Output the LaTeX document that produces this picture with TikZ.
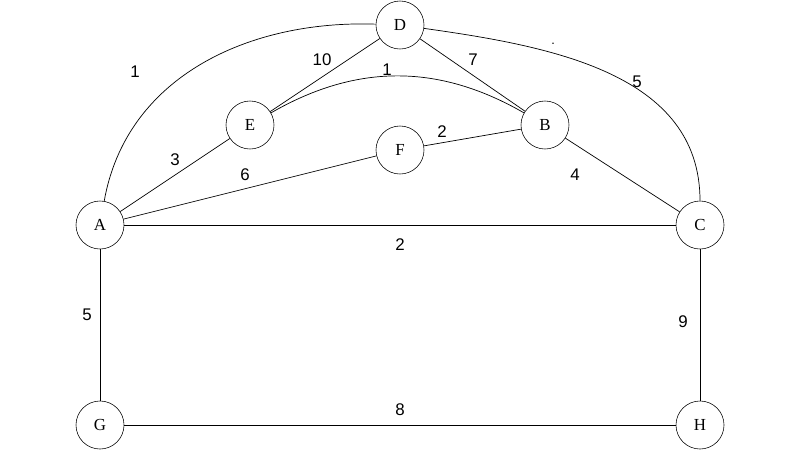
\documentclass[tikz,border=0pt]{standalone}
\usepackage{fontspec}
\setmainfont{Liberation Serif}
\newfontfamily\lab{Liberation Sans}
\begin{document}
\begin{tikzpicture}[x=0.025cm,y=-0.025cm,
  vtx/.style={draw,circle,minimum size=1.2cm,inner sep=0pt,font=\large},
  lbl/.style={font=\lab\large},
  edge/.style={draw,line width=0.5pt}]
\useasboundingbox (0,0) rectangle (800,450);
\node[vtx] (D) at (400,25) {D};
\node[vtx] (E) at (250,125) {E};
\node[vtx] (F) at (400,150) {F};
\node[vtx] (B) at (545,125) {B};
\node[vtx] (A) at (100,225) {A};
\node[vtx] (C) at (700,225) {C};
\node[vtx] (G) at (100,425) {G};
\node[vtx] (H) at (700,425) {H};
\draw[edge] (A) to[out=80,in=178] (D);
\draw[edge] (D) to[out=-8,in=90] (C);
\draw[edge] (E) to[out=30,in=150] (B);
\draw[edge] (D) -- (E);
\draw[edge] (D) -- (B);
\draw[edge] (A) -- (E);
\draw[edge] (A) -- (F);
\draw[edge] (F) -- (B);
\draw[edge] (B) -- (C);
\draw[edge] (A) -- (C);
\draw[edge] (A) -- (G);
\draw[edge] (G) -- (H);
\draw[edge] (C) -- (H);
\node[lbl] (l1) at (135,72) {1};
\node[lbl] (l2) at (322,60) {10};
\node[lbl] (l3) at (387,70) {1};
\node[lbl] (l4) at (473,60) {7};
\node[lbl] (l5) at (637,82) {5};
\node[lbl] (l6) at (175,160) {3};
\node[lbl] (l7) at (245,175) {6};
\node[lbl] (l8) at (442,132) {2};
\node[lbl] (l9) at (575,175) {4};
\node[lbl] (l10) at (400,245) {2};
\node[lbl] (l11) at (87,315) {5};
\node[lbl] (l12) at (683,322) {9};
\node[lbl] (l13) at (400,410) {8};
\node[lbl,font=\lab\small] (l14) at (553,44) {.};
\end{tikzpicture}
\end{document}
